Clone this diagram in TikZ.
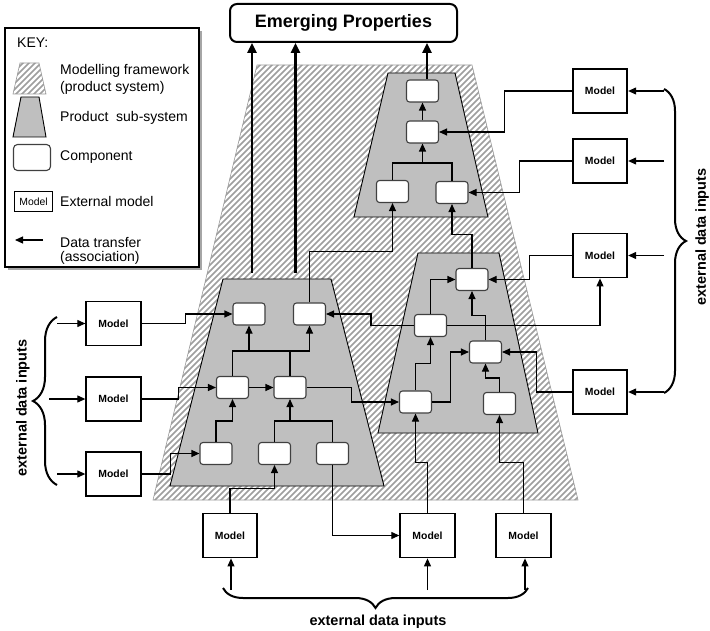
\documentclass[tikz,border=0pt]{standalone}
\usepackage{fontspec}
\setmainfont{Liberation Sans}
\usetikzlibrary{arrows.meta,decorations.pathreplacing,calc}
\begin{document}
\begin{tikzpicture}[x=1pt,y=-1pt,
  line/.style={line width=1.1pt},
  arr/.style={line width=1.1pt,-{Triangle[length=8pt,width=7pt]}},
  thickarr/.style={line width=2.4pt,-{Triangle[length=10pt,width=9pt]}},
  comp/.style={draw=black!75,fill=white,line width=1.1pt,rounded corners=3pt,
    minimum width=32pt,minimum height=22pt,inner sep=0pt},
  model/.style={draw=black,fill=white,line width=1.8pt,minimum width=54.5pt,
    minimum height=44pt,inner sep=0pt,font=\fontsize{10.4}{12}\selectfont\bfseries},
  hatchline/.style={draw=black!38,line width=1.5pt},
  subsys/.style={fill=black!25,draw=black,line width=0.9pt},
  bracestyle/.style={decorate,decoration={brace,amplitude=#1},line width=2pt},
  lbl/.style={font=\fontsize{14.5}{16}\selectfont\bfseries,inner sep=0pt},
  keytext/.style={anchor=west,font=\fontsize{14}{16}\selectfont,inner sep=0pt}
]
\useasboundingbox (0,0) rectangle (710,631);

% ---------- modelling framework (hatched) ----------
\fill[white] (153,500) -- (578,500) -- (472,65) -- (257,65) -- cycle;
\begin{scope}
  \clip (153,500) -- (578,500) -- (472,65) -- (257,65) -- cycle;
  \foreach \x in {-300,-294,...,600}
    \draw[hatchline] (\x,505) -- ({\x+445},60);
\end{scope}
\draw[black!40,line width=0.6pt] (153,500) -- (578,500) -- (472,65) -- (257,65) -- cycle;

% ---------- product sub-systems ----------
\draw[subsys] (170,486) -- (384,486) -- (331,279) -- (223,279) -- cycle;
\draw[subsys] (354,217) -- (488,217) -- (455,73) -- (388,73) -- cycle;
\draw[subsys] (378,433) -- (538,433) -- (499,253) -- (418,253) -- cycle;

% ---------- emerging properties ----------
\node[draw,line width=2pt,rounded corners=7pt,minimum width=227pt,minimum height=38pt,
  font=\fontsize{18}{20}\selectfont\bfseries] (E) at (343.5,23) {Emerging Properties};

% ---------- components ----------
\node[comp] (U1) at (422.5,91) {};
\node[comp] (U2) at (422.5,132) {};
\node[comp] (U3) at (392.5,191.5) {};
\node[comp] (U4) at (452,192.5) {};

\node[comp] (L1) at (249,314) {};
\node[comp] (L2) at (309.5,314) {};
\node[comp] (L3) at (232.5,387.5) {};
\node[comp] (L4) at (290,387.5) {};
\node[comp] (L5) at (216,453.5) {};
\node[comp] (L6) at (274.5,453.5) {};
\node[comp] (L7) at (332.5,453.5) {};

\node[comp] (R1) at (472,279.5) {};
\node[comp] (R2) at (430.5,325.5) {};
\node[comp] (R3) at (485.5,352) {};
\node[comp] (R4) at (415.5,402) {};
\node[comp] (R5) at (499.5,403.5) {};

% ---------- external models ----------
\node[model] (MR1) at (600,91) {Model};
\node[model] (MR2) at (600,161) {Model};
\node[model] (MR3) at (600,255.5) {Model};
\node[model] (MR4) at (600,392) {Model};
\node[model] (ML1) at (113.5,323.5) {Model};
\node[model] (ML2) at (113.5,399) {Model};
\node[model] (ML3) at (113.5,474) {Model};
\node[model] (MB1) at (230,535.5) {Model};
\node[model] (MB2) at (427.5,535.5) {Model};
\node[model] (MB3) at (523.5,535.5) {Model};

% ---------- outputs to emerging properties ----------
\coordinate (u1o) at ([xshift=4.5pt]U1.north);
\coordinate (lo1) at (252,273);
\coordinate (lo2) at (295.5,273);
\draw[thickarr] (u1o) -- (u1o |- E.south);
\draw[thickarr] (lo1) -- (lo1 |- E.south);
\draw[thickarr] (lo2) -- (lo2 |- E.south);

% ---------- upper sub-system ----------
\coordinate (ubus) at (422.5,163);
\draw[arr] (U2.north) -- (U1.south);
\draw[line] (U3.north) |- (ubus) -| (U4.north);
\draw[arr] (ubus) -- (U2.south);
\draw[arr] (MR1.west) -- ++(-67,0) |- (U2.east);
\draw[arr] (MR2.west) -- ++(-52,0) |- (U4.east);
\draw[arr] (L2.north) -- ++(0,-50.5) -| (U3.south);
\draw[arr] (R1.north) -- ++(0,-33) -| (U4.south);

% ---------- left sub-system ----------
\coordinate (lb1) at (249,351);
\coordinate (lb2) at (309.5,351);
\coordinate (lb3) at (290,421);
\draw[line] (L3.north) |- (lb2);
\draw[line] (L4.north) -- (L4.north |- lb2);
\draw[arr] (lb1) -- (L1.south);
\draw[arr] (lb2) -- (L2.south);
\draw[arr] (L3.east) -- (L4.west);
\draw[arr] (ML1.east) -- ++(44,0) |- (L1.west);
\draw[arr] (ML2.east) -- ++(37,0) |- (L3.west);
\draw[arr] (ML3.east) -- ++(29,0) |- (L5.west);
\draw[arr] (L5.north) -- ++(0,-21) -| (L3.south);
\draw[line] (L6.north) -- ++(0,-21) -| (L7.north);
\draw[arr] (lb3) -- (L4.south);
\draw[arr] (MB1.north) -- ++(0,-24) -| (L6.south);
\draw[arr] (L7.south) |- (MB2.west);
\draw[arr] (L4.east) -- ++(45,0) |- (R4.west);

% ---------- lower right sub-system ----------
\draw[arr] (R2.west) -- ++(-43,0) |- (L2.east);
\draw[arr] (R2.east) -| (MR3.south);
\draw[arr] (MR3.west) -- ++(-42,0) |- (R1.east);
\draw[arr] (R2.north) |- (R1.west);
\draw[arr] (R3.north) -- ++(0,-25) -| (R1.south);
\draw[arr] (R4.north) -- ++(0,-27) -| (R2.south);
\draw[arr] (R4.east) -- ++(18,0) |- (R3.west);
\draw[arr] (R5.north) -- ++(0,-14) -| (R3.south);
\draw[arr] (MR4.west) -- ++(-35,0) |- (R3.east);
\draw[arr] (MB2.north) -- ++(0,-50) -| (R4.south);
\draw[arr] (MB3.north) -- ++(0,-50) -| (R5.south);

% ---------- external data inputs ----------
\coordinate (rbx) at (664,0);
\coordinate (lbx) at (57,0);
\coordinate (lbm) at (49,0);
\coordinate (bby) at (0,590);
\draw[bracestyle=22pt] (664,89) -- (664,393);
\draw[bracestyle=24pt] (57,485) -- (57,317);
\draw[bracestyle=20pt] (528,588) -- (223,588);
\foreach \m in {MR1,MR2,MR3,MR4}
  \draw[arr] (\m.east -| rbx) -- (\m.east);
\draw[arr] (ML1.west -| lbx) -- (ML1.west);
\draw[arr] (ML2.west -| lbm) -- (ML2.west);
\draw[arr] (ML3.west -| lbx) -- (ML3.west);
\draw[arr] ([xshift=1pt]MB1.south |- bby) -- ([xshift=1pt]MB1.south);
\draw[arr] (MB2.south |- bby) -- (MB2.south);
\draw[arr] ([xshift=1.5pt]MB3.south |- bby) -- ([xshift=1.5pt]MB3.south);

\node[lbl,rotate=90] (txl) at (23,408) {external data inputs};
\node[lbl,rotate=90] (txr) at (702,237) {external data inputs};
\node[lbl] (txb) at (378,622) {external data inputs};

% ---------- key ----------
\fill[black!35] (8,31) rectangle (202,270);
\draw[fill=white,line width=1.5pt] (5,28) rectangle (199,267);
\node[keytext] (k0) at (17,43) {KEY:};
\fill[white] (13,94) -- (46,94) -- (39,63) -- (20,63) -- cycle;
\begin{scope}
  \clip (13,94) -- (46,94) -- (39,63) -- (20,63) -- cycle;
  \foreach \x in {-30,-24,...,60}
    \draw[hatchline] (\x,98) -- ({\x+40},58);
\end{scope}
\draw[black!40,line width=0.6pt] (13,94) -- (46,94) -- (39,63) -- (20,63) -- cycle;
\draw[subsys] (13,137) -- (46,137) -- (39,97) -- (21,97) -- cycle;
\node[comp,minimum width=37pt,minimum height=26pt,rounded corners=4pt] (kc) at (32,157.5) {};
\node[draw,line width=1.3pt,minimum width=38pt,minimum height=20pt,inner sep=0pt,
  font=\fontsize{10.4}{12}\selectfont] (km) at (33.5,201.5) {Model};
\coordinate (ka1) at (43,240);
\coordinate (ka2) at (15,240);
\draw[arr] (ka1) -- (ka2);
\node[keytext] (k1) at (60,71) {Modelling framework};
\node[keytext] (k2) at (60,88) {(product system)};
\node[keytext] (k3) at (60,118) {Product~ sub-system};
\node[keytext] (k4) at (60,157) {Component};
\node[keytext] (k5) at (60,201) {External model};
\node[keytext] (k6) at (60,243) {Data transfer};
\node[keytext] (k7) at (60,258) {(association)};
\end{tikzpicture}
\end{document}
